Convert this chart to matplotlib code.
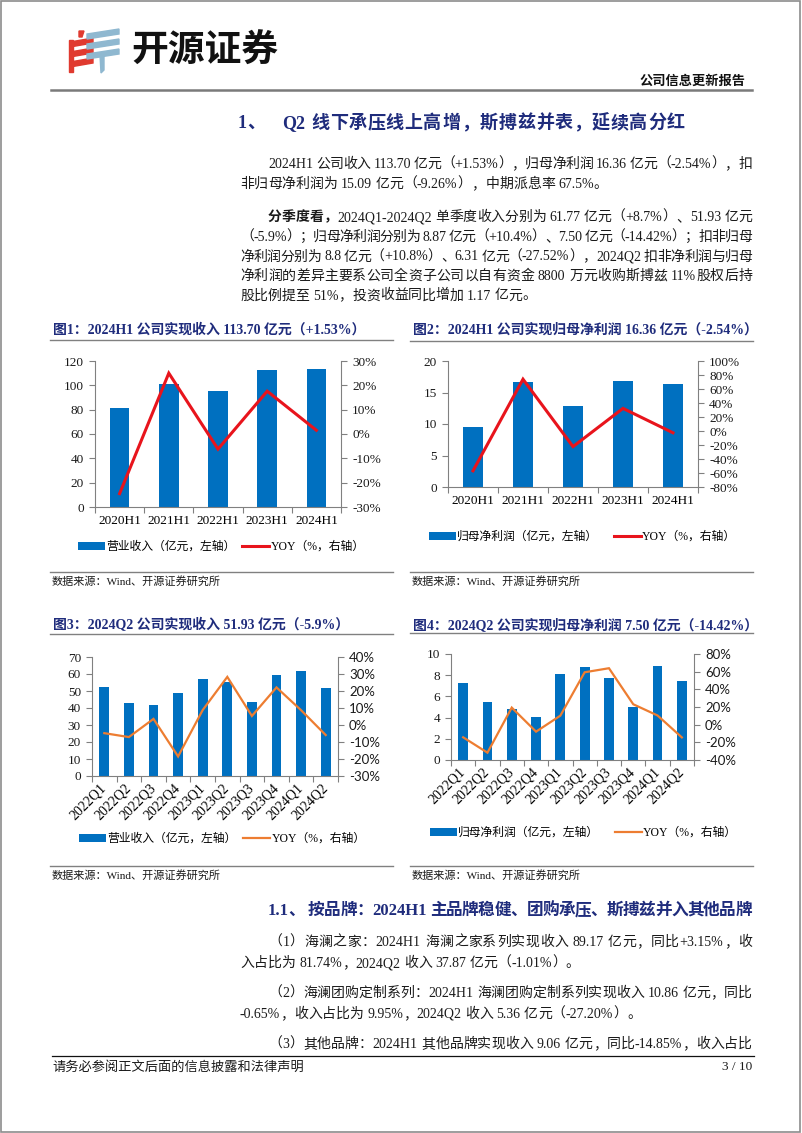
import re
import numpy as np
import matplotlib
matplotlib.use('Agg')
import matplotlib.pyplot as plt
from matplotlib.patches import Patch, Polygon, Rectangle
from matplotlib.lines import Line2D
from matplotlib.font_manager import FontProperties
from matplotlib.ticker import PercentFormatter

plt.rcParams['axes.unicode_minus'] = False

# ---- chart data ----
h1_labels = ['2020H1', '2021H1', '2022H1', '2023H1', '2024H1']
h1_revenue = [81.2, 101.3, 95.5, 112.2, 113.70]
h1_revenue_yoy = [-24.5, 25.0, -6.2, 17.6, 1.53]
h1_profit = [9.5, 16.6, 12.8, 16.9, 16.36]
h1_profit_yoy = [-56.9, 74.0, -22.3, 32.3, -2.54]

q_labels = ['2022Q1', '2022Q2', '2022Q3', '2022Q4', '2023Q1',
            '2023Q2', '2023Q3', '2023Q4', '2024Q1', '2024Q2']
q_revenue = [52.1, 43.1, 41.6, 49.0, 56.8, 55.3, 43.7, 59.7, 61.77, 51.93]
q_revenue_yoy = [-4.8, -7.1, 3.6, -18.5, 8.8, 28.3, 5.3, 22.1, 8.7, -5.9]
q_profit = [7.23, 5.50, 4.78, 4.03, 8.08, 8.80, 7.76, 5.03, 8.87, 7.50]
q_profit_yoy = [-14.3, -31.7, 19.3, -7.9, 10.2, 59.3, 63.9, 23.1, 10.4, -14.42]

# ---- page text ----
titles = ['图1：2024H1 公司实现收入 113.70 亿元（+1.53%）',
          '图2：2024H1 公司实现归母净利润 16.36 亿元（-2.54%）',
          '图3：2024Q2 公司实现收入 51.93 亿元（-5.9%）',
          '图4：2024Q2 公司实现归母净利润 7.50 亿元（-14.42%）']
bar_names = ['营业收入（亿元，左轴）', '归母净利润（亿元，左轴）',
             '营业收入（亿元，左轴）', '归母净利润（亿元，左轴）']
line_name = 'YOY（%，右轴）'
source = '数据来源：Wind、开源证券研究所'

para1 = ['2024H1 公司收入 113.70 亿元（+1.53%），归母净利润 16.36 亿元（-2.54%），扣',
         '非归母净利润为 15.09 亿元（-9.26%），中期派息率 67.5%。']
para2_bold = '分季度看，'
para2 = ['2024Q1-2024Q2 单季度收入分别为 61.77 亿元（+8.7%）、51.93 亿元',
         '（-5.9%）；归母净利润分别为 8.87 亿元（+10.4%）、7.50 亿元（-14.42%）；扣非归母',
         '净利润分别为 8.8 亿元（+10.8%）、6.31 亿元（-27.52%），2024Q2 扣非净利润与归母',
         '净利润的差异主要系公司全资子公司以自有资金 8800 万元收购斯搏兹 11%股权后持',
         '股比例提至 51%，投资收益同比增加 1.17 亿元。']
brand = [['（1）海澜之家：2024H1 海澜之家系列实现收入 89.17 亿元，同比+3.15%，收',
          '入占比为 81.74%，2024Q2 收入 37.87 亿元（-1.01%）。'],
         ['（2）海澜团购定制系列：2024H1 海澜团购定制系列实现收入 10.86 亿元，同比',
          '-0.65%，收入占比为 9.95%，2024Q2 收入 5.36 亿元（-27.20%）。'],
         ['（3）其他品牌：2024H1 其他品牌实现收入 9.06 亿元，同比-14.85%，收入占比']]

BLUE = '#0070C0'
RED = '#E8141C'
ORANGE = '#ED7D31'
NAVY = '#1F2C7C'
GRAY = '#808080'
INK = '#1a1a1a'
SERIF = ['Liberation Serif', 'Noto Sans CJK SC']
SANS = ['Lato', 'Noto Sans CJK SC']

W, H = 802, 1133
fig = plt.figure(figsize=(W / 100, H / 100), dpi=100)
renderer = fig.canvas.get_renderer()


def fx(x):
    return x / W


def fy(y):
    return 1 - y / H


def hline(x0, x1, y, color=GRAY, lw=1.0):
    fig.add_artist(Line2D([fx(x0), fx(x1)], [fy(y), fy(y)], color=color, lw=lw,
                          transform=fig.transFigure))


TOKEN = re.compile(r'[A-Za-z0-9.%+\-/]+| |.')


def put_line(segments, x0, y, x1=None, size=10, color=INK):
    # lay a line out token by token, spread to x1 when justified
    pieces = []
    for text, weight in segments:
        for tok in TOKEN.findall(text):
            pieces.append((tok, weight))
    em = size * 100 / 72
    arts, widths = [], []
    for tok, weight in pieces:
        if tok == ' ':
            arts.append(None)
            widths.append(em * 0.25)
            continue
        t = fig.text(0, 0, tok, fontsize=size, family=SERIF, weight=weight,
                     color=color, va='baseline', ha='left')
        if ord(tok[0]) > 0x2000:
            widths.append(em)  # CJK glyphs are one em wide
        else:
            widths.append(t.get_window_extent(renderer).width)
        arts.append(t)
    gap = 0
    if x1 is not None and len(pieces) > 1:
        gap = (x1 - x0 - sum(widths)) / (len(pieces) - 1)
    x = x0
    for t, w in zip(arts, widths):
        if t is not None:
            t.set_position((fx(x), fy(y)))
        x += w + gap


# ---- page frame and header ----
fig.add_artist(Rectangle((fx(1), fy(1132)), fx(799), 1131 / H, fill=False,
                         ec='#8c8c8c', lw=1.2, transform=fig.transFigure))

for k in range(3):
    y = 42 + 10 * k
    fig.add_artist(Polygon([(fx(70), fy(y + 5)), (fx(93), fy(y + 1)), (fx(93), fy(y - 4)),
                            (fx(70), fy(y))], color='#E03A2F', transform=fig.transFigure))
    y = 34 + 10 * k
    fig.add_artist(Polygon([(fx(87), fy(y + 5)), (fx(119), fy(y)), (fx(119), fy(y - 5)),
                            (fx(87), fy(y))], color='#8FB8D0', transform=fig.transFigure))
fig.add_artist(Rectangle((fx(69), fy(72)), 4 / W, 32 / H, color='#E03A2F',
                         transform=fig.transFigure))
fig.add_artist(Polygon([(fx(79), fy(31)), (fx(84), fy(31)), (fx(82), fy(37)), (fx(79), fy(37))],
                       color='#E03A2F', transform=fig.transFigure))
fig.add_artist(Polygon([(fx(100), fy(55)), (fx(104), fy(55)), (fx(104), fy(70)), (fx(101), fy(73))],
                       color='#8FB8D0', transform=fig.transFigure))
fig.text(fx(131), fy(51), '开源证券', fontsize=26.5, family='Noto Sans CJK SC',
         weight='bold', color='#111111', va='center', ha='left')
fig.text(fx(745), fy(82), '公司信息更新报告', fontsize=9.5, family=SERIF, weight='bold',
         color='#111111', va='center', ha='right')
hline(51, 752, 90, color='#7a7a7a', lw=1.8)

# ---- section heading and body text ----
put_line([('1、', 'bold')], 238, 128, size=13, color=NAVY)
put_line([('Q2 线下承压线上高增，斯搏兹并表，延续高分红', 'bold')], 282, 128, 685,
         size=13, color=NAVY)

put_line([(para1[0], 'normal')], 268, 168, 752)
put_line([(para1[1], 'normal')], 240, 188)
put_line([(para2_bold, 'bold'), (para2[0], 'normal')], 268, 221, 752)
for i, line in enumerate(para2[1:]):
    last = i == len(para2) - 2
    put_line([(line, 'normal')], 240, 241 + 19.5 * i, None if last else 752)

# ---- four charts ----
charts = [
    dict(box=(95, 361, 341, 507), labels=h1_labels, bars=h1_revenue, yoy=h1_revenue_yoy,
         left=(120, 20), right=(-30, 30, 10), color=RED, lw=2.2, rotate=False,
         rfont=SERIF, title=(53, 330, 50, 393, 340), legend=(78, 547, 0.55), src=572),
    dict(box=(448, 361, 698, 487), labels=h1_labels, bars=h1_profit, yoy=h1_profit_yoy,
         left=(20, 5), right=(-80, 100, 20), color=RED, lw=2.2, rotate=False,
         rfont=SERIF, title=(413, 330, 410, 753, 341), legend=(429, 537, 1.3), src=572),
    dict(box=(92, 657, 338, 776), labels=q_labels, bars=q_revenue, yoy=q_revenue_yoy,
         left=(70, 10), right=(-30, 40, 10), color=ORANGE, lw=1.6, rotate=True,
         rfont=SANS, title=(53, 625, 50, 393, 634), legend=(79, 839, 0.55), src=866),
    dict(box=(451, 654, 694, 760), labels=q_labels, bars=q_profit, yoy=q_profit_yoy,
         left=(10, 2), right=(-40, 80, 20), color=ORANGE, lw=1.6, rotate=True,
         rfont=SANS, title=(413, 625, 410, 753, 633), legend=(430, 833, 1.3), src=866),
]

for c, title, bar_name in zip(charts, titles, bar_names):
    l, t, r, b = c['box']
    ax = fig.add_axes([fx(l), fy(b), (r - l) / W, (b - t) / H])
    x = np.arange(len(c['labels']))
    ax.bar(x, c['bars'], width=0.4, color=BLUE)
    ax.set_xlim(-0.5, len(x) - 0.5)
    ax.set_ylim(0, c['left'][0])
    ax.set_yticks(np.arange(0, c['left'][0] + 0.01, c['left'][1]))
    ax.set_xticks(x)
    ax.set_xticks(np.arange(-0.5, len(x)), minor=True)
    if c['rotate']:
        ax.set_xticklabels(c['labels'], rotation=45, ha='right', va='center',
                           rotation_mode='anchor', family=SERIF, fontsize=10)
        ax.tick_params(axis='x', which='major', length=0, pad=7)
    else:
        ax.set_xticklabels(c['labels'], family=SERIF, fontsize=9.5)
        ax.tick_params(axis='x', which='major', length=0, pad=6)
    ax.tick_params(axis='x', which='minor', length=4, color=GRAY, width=0.8)
    ax.tick_params(axis='y', length=4, color=GRAY, width=0.8, labelsize=9.5, pad=4,
                   labelcolor=INK)
    for lab in ax.get_yticklabels():
        lab.set_family(SERIF)
    for s in ['top', 'right']:
        ax.spines[s].set_visible(False)
    for s in ['left', 'bottom']:
        ax.spines[s].set_color(GRAY)
        ax.spines[s].set_linewidth(0.8)

    ax2 = ax.twinx()
    ax2.plot(x, c['yoy'], color=c['color'], lw=c['lw'], solid_joinstyle='miter')
    lo, hi, step = c['right']
    ax2.set_ylim(lo, hi)
    ax2.set_yticks(np.arange(lo, hi + 0.01, step))
    ax2.yaxis.set_major_formatter(PercentFormatter(decimals=0))
    ax2.tick_params(axis='y', length=4, color=GRAY, width=0.8, labelsize=9.5, pad=4,
                    labelcolor=INK)
    for lab in ax2.get_yticklabels():
        lab.set_family(c['rfont'])
    for s in ['top', 'left', 'bottom']:
        ax2.spines[s].set_visible(False)
    ax2.spines['right'].set_color(GRAY)
    ax2.spines['right'].set_linewidth(0.8)

    tx, ty, ux0, ux1, uy = c['title']
    fig.text(fx(tx), fy(ty), title, fontsize=10, family=SERIF, weight='bold',
             color=NAVY, va='center', ha='left')
    hline(ux0, ux1, uy, lw=1.0)

    lx, ly, colsp = c['legend']
    handles = [Patch(facecolor=BLUE), Line2D([], [], color=c['color'], lw=c['lw'])]
    fig.legend(handles, [bar_name, line_name], loc='center left',
               bbox_to_anchor=(fx(lx), fy(ly)), bbox_transform=fig.transFigure,
               ncol=2, frameon=False, handlelength=2.3, handleheight=0.6,
               handletextpad=0.1, columnspacing=colsp, borderpad=0, borderaxespad=0,
               prop=FontProperties(family=SERIF, size=8.5))

    hline(ux0, ux1, c['src'], lw=1.0)
    fig.text(fx(ux0 + 2), fy(c['src'] + 9), source, fontsize=8, family=SERIF,
             color=INK, va='center', ha='left')

# ---- brand section ----
put_line([('1.1、 按品牌：2024H1 主品牌稳健、团购承压、斯搏兹并入其他品牌', 'bold')],
         268, 915, 752, size=12, color=NAVY)
y = 946
for block in brand:
    for i, line in enumerate(block):
        last = i == len(block) - 1 and len(block) > 1
        put_line([(line, 'normal')], 268 if i == 0 else 240, y, None if last else 752)
        y += 21
    y += 9

# ---- footer ----
hline(52, 754, 1056, color='#111111', lw=0.9)
fig.text(fx(52), fy(1067), '请务必参阅正文后面的信息披露和法律声明', fontsize=9.5,
         family=SERIF, color=INK, va='center', ha='left')
fig.text(fx(752), fy(1067), '3 / 10', fontsize=9.5, family=SERIF, color=INK,
         va='center', ha='right')

fig.savefig('out.png', dpi=100, facecolor='white')
